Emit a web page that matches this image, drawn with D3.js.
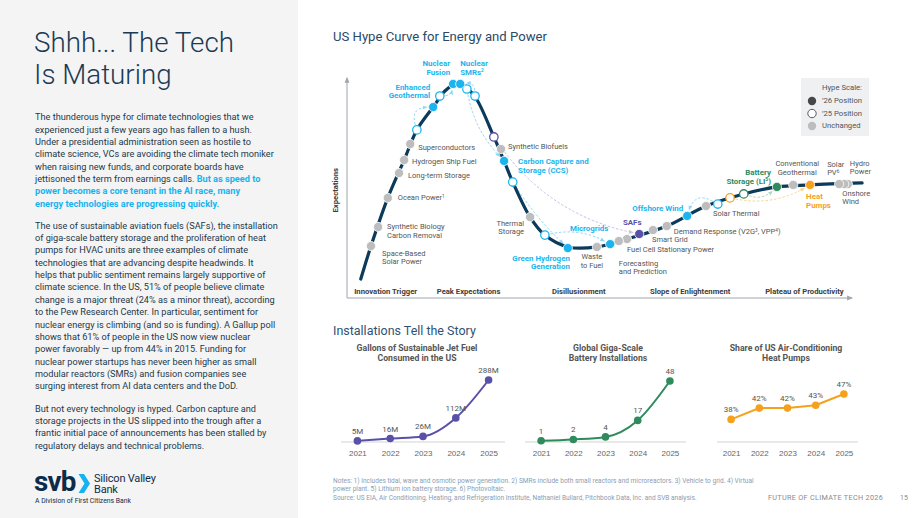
<!DOCTYPE html>
<html>
<head>
<meta charset="utf-8">
<script src="https://cdn.jsdelivr.net/npm/d3@7/dist/d3.min.js"></script>
<style>
  body { margin: 0; background: #fff; }
  svg { display: block; font-family: Roboto, "Noto Sans", "Liberation Sans", sans-serif; }
</style>
</head>
<body>
<svg id="page" width="920" height="518"></svg>
<script>
// ---------- data ----------
const titleLines = ["Shhh... The Tech", "Is Maturing"];

const para1 = [
  "The thunderous hype for climate technologies that we",
  "experienced just a few years ago has fallen to a hush.",
  "Under a presidential administration seen as hostile to",
  "climate science, VCs are avoiding the climate tech moniker",
  "when raising new funds, and corporate boards have",
  "jettisoned the term from earnings calls. **But as speed to**",
  "**power becomes a core tenant in the AI race, many**",
  "**energy technologies are progressing quickly.**"
];
const para2 = [
  "The use of sustainable aviation fuels (SAFs), the installation",
  "of giga-scale battery storage and the proliferation of heat",
  "pumps for HVAC units are three examples of climate",
  "technologies that are advancing despite headwinds. It",
  "helps that public sentiment remains largely supportive of",
  "climate science. In the US, 51% of people believe climate",
  "change is a major threat (24% as a minor threat), according",
  "to the Pew Research Center. In particular, sentiment for",
  "nuclear energy is climbing (and so is funding). A Gallup poll",
  "shows that 61% of people in the US now view nuclear",
  "power favorably \u2014 up from 44% in 2015. Funding for",
  "nuclear power startups has never been higher as small",
  "modular reactors (SMRs) and fusion companies see",
  "surging interest from AI data centers and the DoD."
];
const para3 = [
  "But not every technology is hyped. Carbon capture and",
  "storage projects in the US slipped into the trough after a",
  "frantic initial pace of announcements has been stalled by",
  "regulatory delays and technical problems."
];

// hype curve shape: [time, expectations] on a 0-100 scale
const curveShape = [
  [2.7, 8.6], [4.7, 23.6], [8, 45.5], [11.2, 62.7], [13.7, 76.4], [16.9, 86.8],
  [19.2, 94.1], [21.6, 97.7], [23.5, 95.5], [25.5, 90], [28.8, 73.2], [30.8, 62.3],
  [32.5, 52.7], [35.9, 36.8], [38.8, 28.6], [43.3, 23.2], [49, 23.2], [54.9, 26.8],
  [62.7, 32.7], [70.4, 41.8], [77.8, 47.3], [84.3, 50.5], [90.8, 51.4], [101, 52.3]
];

const phases = [
  { name: "Innovation Trigger", t: 1.4 },
  { name: "Peak Expectations", t: 17.6 },
  { name: "Disillusionment", t: 40.2 },
  { name: "Slope of Enlightenment", t: 59.4 },
  { name: "Plateau of Productivity", t: 82 }
];

const unchangedTech = [
  { id: "ssp", label: "Space-Based|Solar Power", t: 4.7, e: 23.6 },
  { id: "sbc", label: "Synthetic Biology|Carbon Removal", t: 6.1, e: 32.3 },
  { id: "ocean", label: "Ocean Power^1", t: 8.0, e: 45.5 },
  { id: "lts", label: "Long-term Storage", t: 10.2, e: 56.8 },
  { id: "hsf", label: "Hydrogen Ship Fuel", t: 11.2, e: 62.7 },
  { id: "sc", label: "Superconductors", t: 12.4, e: 70.0 },
  { id: "sbf", label: "Synthetic Biofuels", t: 30.2, e: 67.7 },
  { id: "ts", label: "Thermal|Storage", t: 35.9, e: 36.8 },
  { id: "wtf", label: "Waste|to Fuel", t: 49.0, e: 23.2 },
  { id: "fp", label: "Forecasting|and Prediction", t: 53.3, e: 25.9 },
  { id: "fc", label: "Fuel Cell Stationary Power", t: 54.9, e: 26.8 },
  { id: "sg", label: "Smart Grid", t: 60.0, e: 30.9 },
  { id: "dr", label: "Demand Response (V2G^3, VPP^4)", t: 62.7, e: 32.7 },
  { id: "st", label: "Solar Thermal", t: 70.4, e: 41.8 },
  { id: "cg", label: "Conventional|Geothermal", t: 87.5, e: 51.4 },
  { id: "spv", label: "Solar|PV^6", t: 96.5, e: 51.8 },
  { id: "onw", label: "Onshore|Wind", t: 97.5, e: 51.8 },
  { id: "hydro", label: "Hydro|Power", t: 98.2, e: 51.8 }
];

const movedTech = [
  { id: "eg", label: "Enhanced|Geothermal", group: "blue", t25: 13.7, e25: 76.4, t26: 16.9, e26: 86.8 },
  { id: "nf", label: "Nuclear|Fusion", group: "blue", t25: 18.2, e25: 91.8, t26: 20.8, e26: 97.3 },
  { id: "smr", label: "Nuclear|SMRs^2", group: "blue", t25: 25.1, e25: 91.8, t26: 22.2, e26: 97.3 },
  { id: "ccs", label: "Carbon Capture and|Storage (CCS)", group: "blue", t25: 23.5, e25: 95.0, t26: 30.8, e26: 62.3 },
  { id: "saf", label: "SAFs", group: "purple", t25: 28.8, e25: 73.2, t26: 57.3, e26: 29.1 },
  { id: "gh", label: "Green Hydrogen|Generation", group: "blue", t25: 32.5, e25: 52.7, t26: 43.3, e26: 22.7 },
  { id: "mg", label: "Microgrids", group: "blue", t25: 38.8, e25: 28.6, t26: 51.6, e26: 24.5 },
  { id: "off", label: "Offshore Wind", group: "blue", t25: 72.7, e25: 42.7, t26: 66.7, e26: 37.3 },
  { id: "hp", label: "Heat|Pumps", group: "orange", t25: 75.1, e25: 45.5, t26: 90.8, e26: 51.4 },
  { id: "bat", label: "Battery|Storage (LI^5)", group: "green", t25: 77.8, e25: 47.3, t26: 84.3, e26: 50.5 }
];

const legendItems = ["\u201926 Position", "\u201925 Position", "Unchanged"];

const years = ["2021", "2022", "2023", "2024", "2025"];
const safGallons = [5, 16, 26, 112, 288];
const batteryInstalls = [1, 2, 4, 17, 48];
const heatPumpShare = [38, 42, 42, 43, 47];

const notes = [
  "Notes: 1) Includes tidal, wave and osmotic power generation.  2) SMRs include both small reactors and microreactors. 3) Vehicle to grid. 4) Virtual",
  "power plant. 5) Lithium ion battery storage. 6) Photovoltaic.",
  "Source: US EIA, Air Conditioning, Heating, and Refrigeration Institute, Nathaniel Bullard, Pitchbook Data, Inc. and SVB analysis."
];

// ---------- styles / layout ----------
const groupColor = { blue: "#1bb4ee", purple: "#5951a8", green: "#2f8a5c", orange: "#f6a11c" };
const arrowColor = { blue: "#92d6f4", purple: "#c5c1e8", green: "#abdcc0", orange: "#f9d496" };
const gray = "#bdbdbd";
const navy = "#0c3a5a";

// label offsets from the dot centre: [dx, dy, anchor]
const labelPos = {
  ssp: [11, 9.5, "start"], sbc: [9, 2.5, "start"], ocean: [10, 2.5, "start"],
  lts: [9, 4.5, "start"], hsf: [8, 3.5, "start"], sc: [8, 5.5, "start"],
  sbf: [7, -0.5, "start"], ts: [-6, 8.5, "end"], wtf: [-5, 12.5, "middle"],
  fp: [0, 24.5, "start"], fc: [0, 12.5, "start"], sg: [-1, 11.5, "start"],
  dr: [7, 7.5, "start"], st: [7, 9.5, "start"], cg: [4, -18.5, "middle"],
  spv: [-12, -17.5, "start"], hydro: [2, -18.5, "start"], onw: [-2, 11.5, "start"],
  eg: [-3, -17.5, "end"], nf: [-3, -17.5, "end"], smr: [0, -17.5, "start"],
  ccs: [14, 3.5, "start"], saf: [-7, -8.5, "middle"], gh: [2, 12.5, "end"],
  mg: [-21, -13.5, "middle"], off: [-4, -4.5, "end"], hp: [-4, 14.5, "start"],
  bat: [-6, -11.5, "end"]
};
const arrowBend = { eg: -18, nf: 7, smr: 10, ccs: 12, saf: 35, gh: 5, mg: -12, off: 20, hp: 15, bat: 10 };

const page = d3.select("#page");

// font size that makes a sample string span a target width
function fitSize(sel, target) {
  const fs = parseFloat(sel.attr("font-size"));
  return fs * target / sel.node().getComputedTextLength();
}
function sizeFor(str, target, weight) {
  const t = page.append("text").attr("font-size", 10).attr("font-weight", weight || 400).text(str);
  const s = fitSize(t, target);
  t.remove();
  return s;
}

// text with ^n superscripts
function richText(textSel, str, size) {
  str.split(/(\^\d)/).forEach(p => {
    if (!p) return;
    if (p[0] === "^") {
      textSel.append("tspan").attr("font-size", size * 0.62).attr("baseline-shift", "super").text(p.slice(1));
    } else {
      textSel.append("tspan").text(p);
    }
  });
}

// ---------- left panel ----------
page.append("rect").attr("width", 298).attr("height", 518).attr("fill", "#f4f4f4");

const titleG = page.append("g").attr("fill", "#1b3a55").attr("font-weight", 300)
  .attr("font-size", sizeFor(titleLines[0], 200, 300));
titleLines.forEach((t, i) => titleG.append("text").attr("x", 34).attr("y", 52 + i * 32).text(t));

const bodyG = page.append("g").attr("fill", "#24394b").attr("font-size", sizeFor(para1[3], 239));

function drawPara(lines, y0) {
  lines.forEach((ln, i) => {
    const t = bodyG.append("text").attr("x", 35).attr("y", y0 + i * 12.35);
    ln.split(/(\*\*.+?\*\*)/).forEach(seg => {
      if (!seg) return;
      if (seg.startsWith("**")) {
        t.append("tspan").attr("font-weight", 700).attr("fill", "#17b3ef").text(seg.slice(2, -2));
      } else {
        t.append("tspan").text(seg);
      }
    });
  });
}
drawPara(para1, 120.3);
drawPara(para2, 228.7);
drawPara(para3, 411.7);

// logo
const logo = page.append("g").attr("fill", "#0e2c48");
logo.append("text").attr("x", 34).attr("y", 490.5).attr("font-weight", 700)
  .attr("letter-spacing", -0.8).attr("font-size", sizeFor("svb", 44, 700)).text("svb");
logo.append("path").attr("d", "M78.5,474L84,474L90,483.5L84,493L78.5,493L84.5,483.5Z").attr("fill", "#17b3ef");
logo.append("text").attr("x", 94).attr("y", 481.6).attr("font-size", 11).attr("letter-spacing", -0.2).text("Silicon Valley");
logo.append("text").attr("x", 94).attr("y", 493.2).attr("font-size", 11).attr("letter-spacing", -0.2).text("Bank");
logo.append("text").attr("x", 35).attr("y", 502.8).attr("font-size", sizeFor("A Division of First Citizens Bank", 96))
  .text("A Division of First Citizens Bank");

// ---------- hype curve ----------
const x = d3.scaleLinear().domain([0, 100]).range([347, 857]);
const y = d3.scaleLinear().domain([0, 100]).range([298, 78]);

page.append("text").attr("x", 333).attr("y", 40.7)
  .attr("font-size", sizeFor("US Hype Curve for Energy and Power", 214))
  .attr("fill", "#2a4a67").text("US Hype Curve for Energy and Power");

const defs = page.append("defs");
const markerColors = Object.assign({ axis: "#9ea6ae" }, arrowColor);
Object.entries(markerColors).forEach(([k, c]) => {
  defs.append("marker").attr("id", "ah-" + k)
    .attr("viewBox", "0 0 10 10").attr("refX", 8).attr("refY", 5)
    .attr("markerWidth", k === "axis" ? 6 : 5).attr("markerHeight", k === "axis" ? 6 : 5)
    .attr("orient", "auto")
    .append("path").attr("d", "M0,1L10,5L0,9z").attr("fill", c);
});

const hype = page.append("g");
hype.append("line").attr("x1", x(0)).attr("x2", x(0)).attr("y1", y(0)).attr("y2", y(100))
  .attr("stroke", "#9ea6ae").attr("stroke-width", 1).attr("marker-end", "url(#ah-axis)");
hype.append("line").attr("x1", x(0)).attr("x2", x(99)).attr("y1", y(0)).attr("y2", y(0))
  .attr("stroke", "#9ea6ae").attr("stroke-width", 1).attr("marker-end", "url(#ah-axis)");

const phaseSize = sizeFor("Innovation Trigger", 63, 700);
hype.append("text").attr("transform", `translate(338,${y(49)}) rotate(-90)`)
  .attr("text-anchor", "middle").attr("font-size", phaseSize).attr("font-weight", 700)
  .attr("fill", "#3c3c3c").text("Expectations");

hype.selectAll("text.phase").data(phases).join("text").attr("class", "phase")
  .attr("x", d => x(d.t)).attr("y", y(0) - 4.5)
  .attr("font-size", phaseSize).attr("font-weight", 700).attr("fill", "#3c3c3c")
  .text(d => d.name);

// moved arrows (below dots)
const r = 4.6;
function arrowPath(d) {
  const p0 = [x(d.t25), y(d.e25)], p2 = [x(d.t26), y(d.e26)];
  const dx = p2[0] - p0[0], dy = p2[1] - p0[1], len = Math.hypot(dx, dy);
  const b = arrowBend[d.id];
  const c = [(p0[0] + p2[0]) / 2 - dy / len * b, (p0[1] + p2[1]) / 2 + dx / len * b];
  const shrink = (p, k) => {
    const vx = c[0] - p[0], vy = c[1] - p[1], l = Math.hypot(vx, vy);
    return [p[0] + vx / l * k, p[1] + vy / l * k];
  };
  const a = shrink(p0, r + 1), z = shrink(p2, r + 2);
  return `M${a[0]},${a[1]}Q${c[0]},${c[1]} ${z[0]},${z[1]}`;
}
hype.selectAll("path.move").data(movedTech).join("path").attr("class", "move")
  .attr("d", arrowPath).attr("fill", "none")
  .attr("stroke", d => arrowColor[d.group]).attr("stroke-width", 1)
  .attr("stroke-dasharray", "2.5,1.8")
  .attr("marker-end", d => `url(#ah-${d.group})`);

hype.append("path").datum(curveShape)
  .attr("d", d3.line().x(d => x(d[0])).y(d => y(d[1])).curve(d3.curveCatmullRom.alpha(0.5)))
  .attr("fill", "none").attr("stroke", navy).attr("stroke-width", 3.2).attr("stroke-linecap", "round");

// '25 positions (open)
hype.selectAll("circle.p25").data(movedTech).join("circle").attr("class", "p25")
  .attr("cx", d => x(d.t25)).attr("cy", d => y(d.e25)).attr("r", r - 0.4)
  .attr("fill", "#fff").attr("stroke", d => groupColor[d.group]).attr("stroke-width", 1.3);

// unchanged (grey), leftmost drawn on top in the overlapping cluster
hype.selectAll("circle.gray").data(unchangedTech.slice().sort((a, b) => b.t - a.t)).join("circle")
  .attr("class", "gray")
  .attr("cx", d => x(d.t)).attr("cy", d => y(d.e)).attr("r", r)
  .attr("fill", gray).attr("stroke", "#fff").attr("stroke-width", 0.8);

// '26 positions (filled)
hype.selectAll("circle.p26").data(movedTech).join("circle").attr("class", "p26")
  .attr("cx", d => x(d.t26)).attr("cy", d => y(d.e26)).attr("r", r)
  .attr("fill", d => groupColor[d.group]).attr("stroke", "#fff").attr("stroke-width", 0.8);

// labels
const lh = 8.5;
const plainSize = sizeFor("Superconductors", 57);
const boldSize = sizeFor("Offshore Wind", 51, 700);
function drawLabel(d, cx, cy, color, bold) {
  const [dx, dy, anchor] = labelPos[d.id];
  const fs = bold ? boldSize : plainSize;
  d.label.split("|").forEach((ln, i) => {
    const t = hype.append("text").attr("x", cx + dx).attr("y", cy + dy + i * lh)
      .attr("text-anchor", anchor).attr("font-size", fs)
      .attr("font-weight", bold ? 700 : 400).attr("fill", color);
    richText(t, ln, fs);
  });
}
unchangedTech.forEach(d => drawLabel(d, x(d.t), y(d.e), "#555", false));
movedTech.forEach(d => drawLabel(d, x(d.t26), y(d.e26), groupColor[d.group], true));

// legend
const lg = page.append("g");
const legSize = sizeFor("Hype Scale:", 40);
lg.append("rect").attr("x", 801).attr("y", 78).attr("width", 68).attr("height", 58).attr("fill", "#eef0f2");
lg.append("text").attr("x", 822).attr("y", 89.5).attr("font-size", legSize).attr("fill", "#555").text("Hype Scale:");
const legendStyle = [
  { fill: "#474747", stroke: "none" },
  { fill: "#fff", stroke: "#474747" },
  { fill: gray, stroke: "none" }
];
legendItems.forEach((lab, i) => {
  const cy = 101 + i * 12.5;
  lg.append("circle").attr("cx", 812).attr("cy", cy).attr("r", 4.2)
    .attr("fill", legendStyle[i].fill).attr("stroke", legendStyle[i].stroke).attr("stroke-width", 0.9);
  lg.append("text").attr("x", 822).attr("y", cy + 2.4).attr("font-size", legSize).attr("fill", "#555").text(lab);
});

// ---------- installations ----------
page.append("text").attr("x", 333).attr("y", 334.5)
  .attr("font-size", sizeFor("Installations Tell the Story", 143))
  .attr("fill", "#2f5273").text("Installations Tell the Story");

const miniCharts = [
  { title: ["Gallons of Sustainable Jet Fuel", "Consumed in the US"], values: safGallons,
    fmt: v => v + "M", color: groupColor.purple, x0: 341, x1: 505, tx: 417,
    domain: [0, 288], top: 380, curve: d3.curveMonotoneX },
  { title: ["Global Giga-Scale", "Battery Installations"], values: batteryInstalls,
    fmt: v => String(v), color: groupColor.green, x0: 525, x1: 686, tx: 608,
    domain: [0, 48], top: 381, curve: d3.curveMonotoneX },
  { title: ["Share of US Air-Conditioning", "Heat Pumps"], values: heatPumpShare,
    fmt: v => v + "%", color: groupColor.orange, x0: 717, x1: 858, tx: 786,
    domain: [30, 47], top: 394, curve: d3.curveLinear }
];

const baseY = 442;
const miniTitleSize = sizeFor("Gallons of Sustainable Jet Fuel", 121, 700);
const tickSize = sizeFor("2021", 18);
miniCharts.forEach(c => {
  const g = page.append("g");
  const xs = d3.scalePoint().domain(years).range([c.x0, c.x1]).padding(0.5);
  const ys = d3.scaleLinear().domain(c.domain).range([baseY, c.top]);
  const pts = years.map((yr, i) => ({ yr, v: c.values[i] }));

  c.title.forEach((ln, i) => g.append("text").attr("x", c.tx).attr("y", 350.5 + i * 10)
    .attr("text-anchor", "middle").attr("font-size", miniTitleSize).attr("font-weight", 700)
    .attr("fill", "#555").text(ln));

  g.append("line").attr("x1", c.x0).attr("x2", c.x1).attr("y1", baseY).attr("y2", baseY)
    .attr("stroke", "#e2e2e2").attr("stroke-width", 1.5);

  const axis = d3.axisBottom(xs).tickSize(0).tickPadding(0);
  const ax = g.append("g").attr("transform", `translate(0,${baseY + 8})`).call(axis);
  ax.select(".domain").remove();
  ax.selectAll("text").attr("font-size", tickSize).attr("fill", "#666").attr("font-family", null)
    .attr("dy", "0.71em");

  g.append("path").datum(pts)
    .attr("d", d3.line().x(d => xs(d.yr)).y(d => ys(d.v)).curve(c.curve))
    .attr("fill", "none").attr("stroke", c.color).attr("stroke-width", 2);
  g.selectAll("circle").data(pts).join("circle")
    .attr("cx", d => xs(d.yr)).attr("cy", d => ys(d.v)).attr("r", 3.8).attr("fill", c.color);
  g.selectAll("text.val").data(pts).join("text").attr("class", "val")
    .attr("x", d => xs(d.yr)).attr("y", d => ys(d.v) - 7)
    .attr("text-anchor", "middle").attr("font-size", tickSize).attr("fill", "#555")
    .text(d => c.fmt(d.v));
});

// ---------- footer ----------
const ft = page.append("g").attr("fill", "#8b9db2").attr("font-size", sizeFor(notes[0], 422));
ft.append("text").attr("x", 333).attr("y", 483).text(notes[0]);
ft.append("text").attr("x", 333).attr("y", 491).text(notes[1]);
ft.append("text").attr("x", 333).attr("y", 500).text(notes[2]);

const fr = page.append("text").attr("x", 768).attr("y", 500).attr("font-size", 7)
  .attr("letter-spacing", 0.3).attr("fill", "#8a8a8a").text("FUTURE OF CLIMATE TECH 2026");
fr.attr("font-size", fitSize(fr, 118) * 0.98);
page.append("text").attr("x", 900).attr("y", 500).attr("font-size", 7).attr("fill", "#8a8a8a").text("15");
</script>
</body>
</html>
